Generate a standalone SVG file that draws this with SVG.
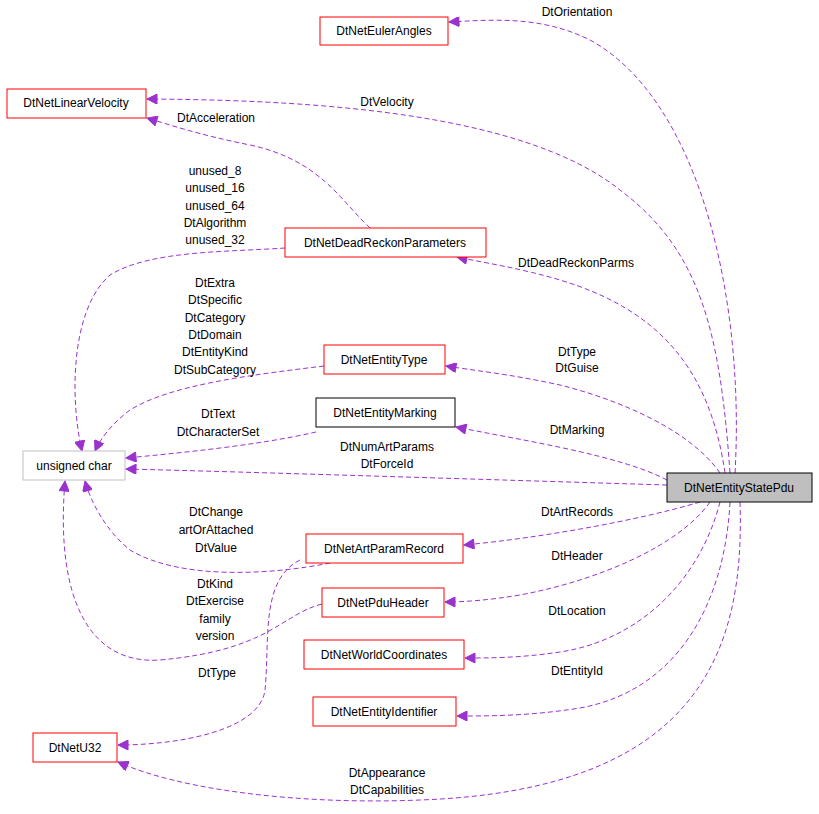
<svg xmlns="http://www.w3.org/2000/svg" width="819" height="814" viewBox="0 0 819 814">
<style>
text{font-family:"Liberation Sans",Arial,sans-serif;font-size:12px;fill:#000}
.n rect{fill:#fff;stroke:#ff0000;stroke-width:1}
.e path{fill:none;stroke:#9a32cd;stroke-width:1;stroke-dasharray:5,3}
.c{text-anchor:middle}
</style>
<defs><marker id="a" viewBox="0 0 10 10" refX="10" refY="5" markerWidth="12" markerHeight="10" markerUnits="userSpaceOnUse" orient="auto"><path d="M0,0L10,5L0,10z" fill="#9a32cd" stroke="#9a32cd"/></marker></defs>
<rect width="819" height="814" fill="#fff"/>
<g id="edges" class="e" marker-end="url(#a)">
<path marker-end="url(#a)" d="M735,473C745,300 700,100 590,40C540,15 490,20 449,22"/>
<path marker-end="url(#a)" d="M730,473C720,330 700,250 620,190C520,110 300,100 147,99"/>
<path marker-end="url(#a)" d="M370,228C340,200 320,160 250,145C200,135 170,125 147,118"/>
<path marker-end="url(#a)" d="M725,473C710,370 660,310 560,280C520,268 480,262 457,257"/>
<path marker-end="url(#a)" d="M285,248C230,252 150,250 110,275C70,310 70,400 82,451"/>
<path marker-end="url(#a)" d="M324,366C250,375 170,385 130,410C110,425 100,440 95,451"/>
<path marker-end="url(#a)" d="M720,473C690,430 620,400 560,385C510,374 470,370 446,366"/>
<path marker-end="url(#a)" d="M316,432C260,445 180,453 126,458"/>
<path marker-end="url(#a)" d="M667,480C620,455 520,440 456,427"/>
<path marker-end="url(#a)" d="M667,485C500,480 250,472 126,469"/>
<path marker-end="url(#a)" d="M330,563C270,575 180,580 130,550C105,530 90,500 85,481"/>
<path marker-end="url(#a)" d="M700,502C640,520 540,538 464,545"/>
<path marker-end="url(#a)" d="M322,604C280,615 270,650 160,660C90,665 55,600 65,481"/>
<path marker-end="url(#a)" d="M710,502C680,545 600,580 520,595C490,600 465,602 445,602"/>
<path marker-end="url(#a)" d="M720,502C700,580 640,640 560,652C520,658 490,658 465,658"/>
<path marker-end="url(#a)" d="M730,502C725,600 680,690 580,708C530,716 490,716 457,716"/>
<path marker-end="url(#a)" d="M300,560C260,580 270,640 265,690C260,730 180,745 118,745"/>
<path marker-end="url(#a)" d="M740,502C745,650 700,790 420,800C300,805 180,790 118,762"/>
</g>
<g id="labels">
<text class="c" x="577" y="16">DtOrientation</text>
<text class="c" x="387" y="106">DtVelocity</text>
<text class="c" x="216" y="122">DtAcceleration</text>
<text class="c" x="576" y="267">DtDeadReckonParms</text>
<text class="c" x="215" y="175">unused_8</text>
<text class="c" x="215" y="192">unused_16</text>
<text class="c" x="215" y="210">unused_64</text>
<text class="c" x="215" y="227">DtAlgorithm</text>
<text class="c" x="215" y="244">unused_32</text>
<text class="c" x="215" y="287">DtExtra</text>
<text class="c" x="215" y="304">DtSpecific</text>
<text class="c" x="215" y="322">DtCategory</text>
<text class="c" x="215" y="339">DtDomain</text>
<text class="c" x="215" y="356">DtEntityKind</text>
<text class="c" x="215" y="374">DtSubCategory</text>
<text class="c" x="577" y="356">DtType</text>
<text class="c" x="577" y="372">DtGuise</text>
<text class="c" x="218" y="418">DtText</text>
<text class="c" x="218" y="436">DtCharacterSet</text>
<text class="c" x="577" y="434">DtMarking</text>
<text class="c" x="387" y="451">DtNumArtParams</text>
<text class="c" x="387" y="468">DtForceId</text>
<text class="c" x="216" y="516">DtChange</text>
<text class="c" x="216" y="534">artOrAttached</text>
<text class="c" x="216" y="552">DtValue</text>
<text class="c" x="577" y="516">DtArtRecords</text>
<text class="c" x="215" y="588">DtKind</text>
<text class="c" x="215" y="605">DtExercise</text>
<text class="c" x="215" y="623">family</text>
<text class="c" x="215" y="640">version</text>
<text class="c" x="577" y="560">DtHeader</text>
<text class="c" x="577" y="615">DtLocation</text>
<text class="c" x="577" y="675">DtEntityId</text>
<text class="c" x="217" y="677">DtType</text>
<text class="c" x="387" y="777">DtAppearance</text>
<text class="c" x="387" y="794">DtCapabilities</text>
</g>
<g id="n1" class="n"><rect x="320" y="17" width="128" height="28"/><text class="c" x="384" y="35">DtNetEulerAngles</text></g>
<g id="n2" class="n"><rect x="7" y="89" width="139" height="29"/><text class="c" x="76" y="107">DtNetLinearVelocity</text></g>
<g id="n3" class="n"><rect x="285" y="228" width="201" height="29"/><text class="c" x="385" y="247">DtNetDeadReckonParameters</text></g>
<g id="n4" class="n"><rect x="324" y="345" width="121" height="29"/><text class="c" x="384" y="364">DtNetEntityType</text></g>
<g id="n5" class="n"><rect x="316" y="398" width="139" height="29" style="stroke:#000"/><text class="c" x="385" y="417">DtNetEntityMarking</text></g>
<g id="n6" class="n"><rect x="23" y="451" width="102" height="29" style="stroke:#bfbfbf"/><text class="c" x="74" y="470">unsigned char</text></g>
<g id="n7" class="n"><rect x="667" y="473" width="145" height="29" style="stroke:#000;fill:#bfbfbf"/><text class="c" x="739" y="492">DtNetEntityStatePdu</text></g>
<g id="n8" class="n"><rect x="306" y="534" width="157" height="29"/><text class="c" x="384" y="553">DtNetArtParamRecord</text></g>
<g id="n9" class="n"><rect x="322" y="588" width="122" height="29"/><text class="c" x="383" y="607">DtNetPduHeader</text></g>
<g id="n10" class="n"><rect x="304" y="640" width="160" height="29"/><text class="c" x="384" y="659">DtNetWorldCoordinates</text></g>
<g id="n11" class="n"><rect x="313" y="697" width="143" height="29"/><text class="c" x="384" y="716">DtNetEntityIdentifier</text></g>
<g id="n12" class="n"><rect x="33" y="733" width="84" height="29"/><text class="c" x="75" y="752">DtNetU32</text></g>
</svg>
